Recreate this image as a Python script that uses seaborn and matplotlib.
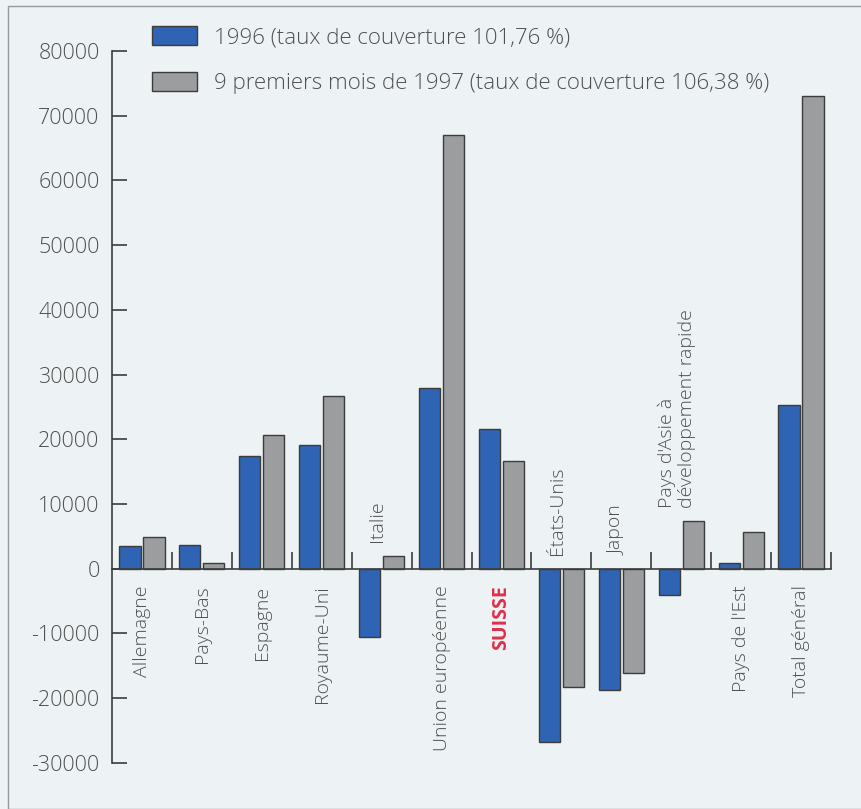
import numpy as np
import matplotlib.pyplot as plt
import pandas as pd
import seaborn as sns

# Data
categories = ['Allemagne', 'Pays-Bas', 'Espagne', 'Royaume-Uni', 'Italie',
              'Union européenne', 'SUISSE', 'États-Unis', 'Japon',
              "Pays d'Asie à\ndéveloppement rapide", "Pays de l'Est", 'Total général']
values_1996 = [3450, 3650, 17350, 19150, -10550, 27950, 21650, -26700, -18700, -4100, 950, 25250]
values_1997 = [4900, 850, 20650, 26650, 1950, 66950, 16600, -18300, -16100, 7300, 5650, 73000]
series = ['1996 (taux de couverture 101,76 %)',
          '9 premiers mois de 1997 (taux de couverture 106,38 %)']
yticks = [-30000, -20000, -10000, 0, 10000, 20000, 30000, 40000, 50000, 60000, 70000, 80000]

bg = '#edf2f4'
txt = '#505050'
line = '#3c3c3c'
blue = '#2f63b3'
grey = '#9b9d9f'

df = pd.DataFrame({'cat': categories * 2,
                   'val': values_1996 + values_1997,
                   'serie': [series[0]] * len(categories) + [series[1]] * len(categories)})

sns.set_style('white')
plt.rcParams['font.family'] = ['Open Sans', 'DejaVu Sans']

fig = plt.figure(figsize=(8.62, 8.09), dpi=100, facecolor=bg)
ax = fig.add_axes([0.130, 0.057, 0.834, 0.880])
ax.set_facecolor(bg)

sns.barplot(data=df, x='cat', y='val', hue='serie', palette=[blue, grey],
            saturation=1, width=0.8, gap=0.12, edgecolor=line, linewidth=1.0, ax=ax)

ax.set_xlim(-0.5, len(categories) - 0.5)
ax.set_ylim(yticks[0], yticks[-1])
ax.set_yticks(yticks)
ax.set_yticklabels([str(t) for t in yticks], fontsize=15.5, color=txt, fontweight='light')
ax.tick_params(axis='y', left=True, direction='in', length=11, width=1.2, color=line, pad=9)

# x axis on zero line, with small separators between groups
for s in ['top', 'right']:
    ax.spines[s].set_visible(False)
ax.spines['bottom'].set_position(('data', 0))
for s in ['left', 'bottom']:
    ax.spines[s].set_color(line)
    ax.spines[s].set_linewidth(1.2)
ax.set_xticks(np.arange(0.5, len(categories), 1))
ax.set_xticklabels([])
ax.tick_params(axis='x', bottom=True, direction='in', length=12, width=1.2, color=line)
ax.set_xlabel('')
ax.set_ylabel('')

# category labels inside the plot
for i, cat in enumerate(categories):
    color = '#e0304a' if cat == 'SUISSE' else txt
    weight = 'bold' if cat == 'SUISSE' else 'light'
    if min(values_1996[i], values_1997[i]) < 0:
        top = max(0, values_1996[i], values_1997[i])
        ax.annotate(cat, xy=(i, top), xytext=(-3, 10), textcoords='offset points',
                    rotation=90, ha='center', va='bottom', multialignment='left',
                    fontsize=14, color=color, fontweight=weight, linespacing=1.1)
    else:
        ax.annotate(cat, xy=(i, 0), xytext=(0, -12), textcoords='offset points',
                    rotation=90, ha='center', va='top',
                    fontsize=14, color=color, fontweight=weight)

leg = ax.legend(loc='upper left', bbox_to_anchor=(152 / 862, 1 - 26 / 809),
                bbox_transform=fig.transFigure, frameon=False, fontsize=16,
                handlelength=2.03, handleheight=0.95, handletextpad=0.75,
                labelspacing=1.05, borderpad=0, borderaxespad=0)
for t in leg.get_texts():
    t.set_color(txt)
    t.set_fontweight('light')

# thin frame around the figure
fig.patches.append(plt.Rectangle((8 / 862, 0), 1, 1 - 6 / 809, transform=fig.transFigure,
                                 fill=False, edgecolor='#9a9a9a', linewidth=1.0))

plt.savefig('out.png', dpi=100, facecolor=bg)
